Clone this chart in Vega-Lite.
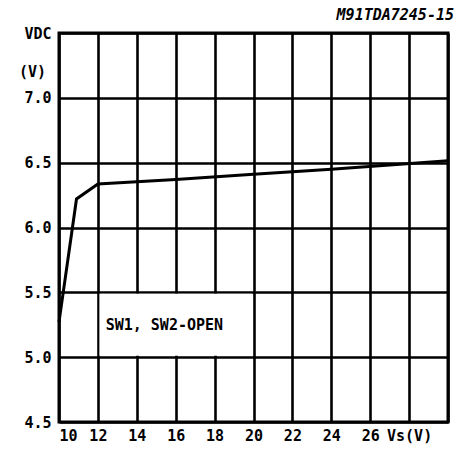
{
  "$schema": "https://vega.github.io/schema/vega-lite/v6.json",
  "width": 389,
  "height": 389,
  "autosize": {"type": "none"},
  "padding": {"left": 59, "top": 33, "right": 14, "bottom": 36},
  "background": "white",
  "title": {
    "text": "M91TDA7245-15",
    "anchor": "end",
    "font": "DejaVu Sans Mono",
    "fontSize": 15,
    "fontWeight": "bold",
    "fontStyle": "italic",
    "color": "black",
    "offset": 3
  },
  "config": {
    "view": {"stroke": "black", "strokeWidth": 3},
    "axis": {
      "grid": true,
      "gridColor": "black",
      "gridWidth": 2.6,
      "gridOpacity": 1,
      "ticks": false,
      "domain": false,
      "labelFont": "DejaVu Sans Mono",
      "labelFontSize": 15,
      "labelFontWeight": "bold",
      "labelColor": "black",
      "labelOverlap": false
    }
  },
  "datasets": {
    "curve": [
      {"vs": 10.0, "vdc": 5.27},
      {"vs": 10.9, "vdc": 6.22},
      {"vs": 12.0, "vdc": 6.335},
      {"vs": 16.0, "vdc": 6.37},
      {"vs": 20.0, "vdc": 6.41},
      {"vs": 24.0, "vdc": 6.45},
      {"vs": 30.0, "vdc": 6.515}
    ],
    "box": [{"vs": 12.08, "vs2": 19.92, "vdc": 5.011, "vdc2": 5.489}],
    "note": [{"vs": 12.4, "vdc": 5.25, "label": "SW1, SW2-OPEN"}]
  },
  "encoding": {
    "x": {"field": "vs", "type": "quantitative", "scale": {"domain": [10, 30], "nice": false, "zero": false},
      "axis": {"values": [10, 12, 14, 16, 18, 20, 22, 24, 26, 28, 30], "title": null, "labelPadding": 6,
        "labelExpr": "datum.value == 28 ? 'Vs(V)' : (datum.value == 30 ? '' : datum.label)"}},
    "y": {"field": "vdc", "type": "quantitative", "scale": {"domain": [4.5, 7.5], "nice": false, "zero": false},
      "axis": {"values": [4.5, 5, 5.5, 6, 6.5, 7, 7.5], "labelPadding": 8,
        "labelExpr": "datum.value == 7.5 ? 'VDC' : format(datum.value, '.1f')",
        "title": "(V)", "titleAngle": 0, "titleX": -27, "titleY": 38, "titleAlign": "center", "titleBaseline": "middle",
        "titleFont": "DejaVu Sans Mono", "titleFontSize": 15, "titleFontWeight": "bold", "titleColor": "black"}}
  },
  "layer": [
    {
      "data": {"name": "box"},
      "mark": {"type": "rect", "color": "white"},
      "encoding": {
        "x2": {"field": "vs2"},
        "y2": {"field": "vdc2"}
      }
    },
    {
      "data": {"name": "curve"},
      "mark": {"type": "line", "color": "black", "strokeWidth": 3},
      "encoding": {}
    },
    {
      "data": {"name": "note"},
      "mark": {"type": "text", "align": "left", "baseline": "middle", "font": "DejaVu Sans Mono", "fontSize": 15, "fontWeight": "bold", "color": "black"},
      "encoding": {
        "text": {"field": "label"}
      }
    }
  ]
}
